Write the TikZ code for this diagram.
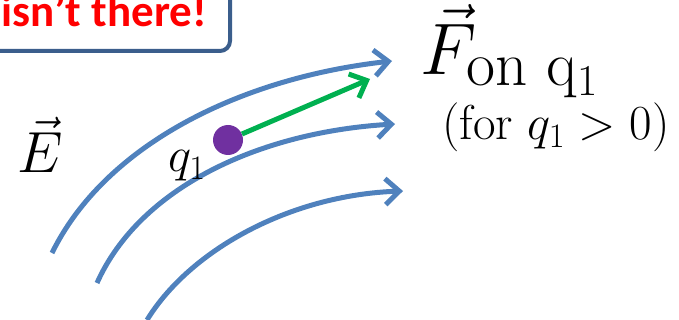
\documentclass[tikz,border=0pt]{standalone}
\usepackage{fix-cm}
\usepackage{amsmath}
\usepackage{fontspec}
\newfontfamily\notefont{Carlito}
\usetikzlibrary{arrows.meta,positioning}
\definecolor{fieldblue}{HTML}{4F81BD}
\definecolor{forcegreen}{HTML}{00B050}
\definecolor{chargepurple}{HTML}{7030A0}
\definecolor{noteframe}{HTML}{3B5E8C}
\definecolor{notered}{HTML}{FF0000}
\tikzset{
  fieldline/.style={-{Straight Barb[length=14pt,width=26pt]},line width=5pt,draw=fieldblue},
  forcearrow/.style={-{Straight Barb[length=14pt,width=26pt]},line width=5pt,draw=forcegreen},
  charge/.style={circle,fill=chargepurple,minimum size=30pt,inner sep=0pt},
  lbl/.style={inner sep=0pt,font=\fontsize{49}{55}\selectfont},
  notebox/.style={draw=noteframe,line width=4pt,rounded corners=10pt,fill=white}
}
\begin{document}
\begin{tikzpicture}[x=1pt,y=-1pt]
\clip (0,0) rectangle (679,320);
% note box, cut off by the frame
\draw[notebox](-40,-40) rectangle (230,51);
\node[anchor=base east,inner sep=0pt,text=notered,font=\notefont\bfseries\fontsize{45}{50}\selectfont](note) at (207,27){isn’t there!};
% field lines
\coordinate (a1) at (52,253);  \coordinate (b1) at (392,61);
\coordinate (a2) at (97,283);  \coordinate (b2) at (395,124);
\coordinate (a3) at (147,320); \coordinate (b3) at (403,191);
\draw[fieldline](a1) .. controls (105,145) and (240,78) .. (b1);
\draw[fieldline](a2) .. controls (140,187) and (260,132) .. (b2);
\draw[fieldline](a3) .. controls (190,250) and (290,195) .. (b3);
% charge and force
\node[charge](q) at (228,140){};
\coordinate (ftip) at (370,79);
\draw[forcearrow](q) -- (ftip);
\node[lbl,anchor=base west](qlabel) at (168,172){$q_1$};
\node[inner sep=0pt,anchor=base west,font=\fontsize{58}{64}\selectfont](efield) at (17,173){$\vec{E}$};
\node[inner sep=0pt,anchor=base west,font=\fontsize{73}{80}\selectfont](force) at (420,75)
  {$\vec{F}_{\hbox{\fontsize{63}{70}\selectfont$\mathrm{on\ q_1}$}}$};
\node[lbl,anchor=base west](cond) at (442,140){(for $q_1>0$)};
\end{tikzpicture}
\end{document}
